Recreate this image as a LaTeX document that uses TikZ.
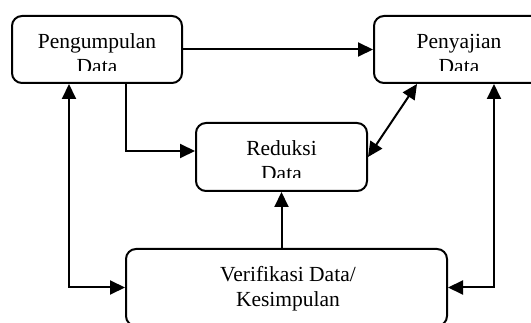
\documentclass[tikz,border=0pt]{standalone}
\usepackage{fontspec}
\setmainfont{Liberation Serif}
\usetikzlibrary{arrows.meta,calc}
\begin{document}
\begin{tikzpicture}[x=1pt,y=1pt,
  box/.style={draw,line width=2pt,rounded corners=10pt,inner sep=0pt},
  txt/.style={anchor=base,inner sep=0pt,font=\fontsize{21.5}{25}\selectfont},
  conn/.style={line width=2pt,-{Triangle[length=15pt,width=14pt]}},
  dconn/.style={line width=2pt,{Triangle[length=15pt,width=14pt]}-{Triangle[length=15pt,width=14pt]}}]
\clip (0,0) rectangle (531,-323);
\fill[white] (0,0) rectangle (531,-323);
% boxes
\node[box,minimum width=170pt,minimum height=67pt] (pg) at (97,-49.5) {};
\node[box,minimum width=170pt,minimum height=67pt] (pj) at (459,-49.5) {};
\node[box,minimum width=171pt,minimum height=68pt] (rd) at (281.5,-157) {};
\node[box,minimum width=321pt,minimum height=77pt] (vf) at (286.5,-287.5) {};
% texts
\begin{scope}
\clip (12,-16) rectangle (182,-71);
\node[txt] (t1) at (97,-49) {Pengumpulan};
\node[txt] (t2) at (97,-74) {Data};
\end{scope}
\begin{scope}
\clip (374,-16) rectangle (544,-71);
\node[txt] (t3) at (459,-49) {Penyajian};
\node[txt] (t4) at (459,-74) {Data};
\end{scope}
\begin{scope}
\clip (196,-123) rectangle (367,-178);
\node[txt] (t5) at (281.5,-156) {Reduksi};
\node[txt] (t6) at (281.5,-181) {Data};
\end{scope}
\node[txt] (t7) at (288,-282) {Verifikasi Data/};
\node[txt] (t8) at (288,-307) {Kesimpulan};
% helper coordinates
\coordinate (lx) at (69,0);
\coordinate (mx) at (126,0);
\coordinate (rx) at (494,0);
\coordinate (dx) at (417,0);
% connectors
\draw[conn] (pg.east) -- (pj.west);
\draw[dconn] (pg.south -| lx) |- (vf.west);
\draw[dconn] (pj.south -| rx) |- (vf.east);
\draw[conn] (pg.south -| mx) |- ([yshift=6pt]rd.west);
\draw[dconn] (rd.east) -- (pj.south -| dx);
\draw[conn] (rd.south |- vf.north) -- (rd.south);
\end{tikzpicture}
\end{document}
